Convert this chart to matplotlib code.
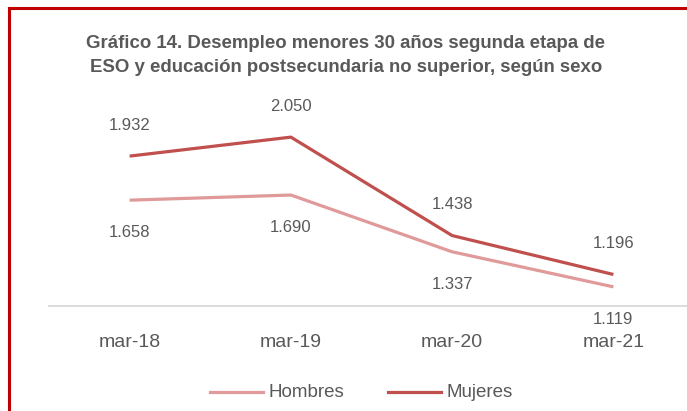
import matplotlib.pyplot as plt
from matplotlib.lines import Line2D

# data
periods = ['mar-18', 'mar-19', 'mar-20', 'mar-21']
hombres = [1658, 1690, 1337, 1119]
mujeres = [1932, 2050, 1438, 1196]
hombres_lbl = ['1.658', '1.690', '1.337', '1.119']
mujeres_lbl = ['1.932', '2.050', '1.438', '1.196']
series_names = ['Hombres', 'Mujeres']

c_hom = '#E09A9A'
c_muj = '#C0504D'
grey = '#595959'

plt.rcParams['font.family'] = ['Liberation Sans', 'DejaVu Sans']

W, H = 687, 411
fig = plt.figure(figsize=(W / 100, H / 100), dpi=100)
fig.patch.set_facecolor('white')

# axes: left edge 49px, category spacing ~161px (runs past the right edge)
ax_l, ax_w = 49 / W, 645 / W
ax_b = 1 - 306 / H
ax_t = 1 - 113 / H
ax = fig.add_axes([ax_l, ax_b, ax_w, ax_t - ax_b])
x = list(range(len(periods)))
ax.plot(x, hombres, color=c_hom, lw=2.3, solid_capstyle='butt')
ax.plot(x, mujeres, color=c_muj, lw=2.3, solid_capstyle='butt')
ax.set_xlim(-0.5, 3.5)
ax.set_ylim(1000, 2200)

for i in x:
    ax.annotate(mujeres_lbl[i], (i, mujeres[i]), xytext=(0, 22), textcoords='offset points',
                ha='center', va='center', fontsize=12, color=grey)
    ax.annotate(hombres_lbl[i], (i, hombres[i]), xytext=(0, -23.5), textcoords='offset points',
                ha='center', va='center', fontsize=12, color=grey)

ax.set_xticks(x)
ax.set_xticklabels(periods, fontsize=14, color=grey)
ax.tick_params(axis='x', length=0, pad=20)
ax.set_yticks([])
for s in ['top', 'right', 'left']:
    ax.spines[s].set_visible(False)
ax.spines['bottom'].set_color('#D9D9D9')
ax.spines['bottom'].set_linewidth(1.3)
ax.patch.set_alpha(0)

fig.text(346 / W, 1 - 43 / H, 'Gráfico 14. Desempleo menores 30 años segunda etapa de',
         ha='center', va='center', fontsize=13.4, fontweight='bold', color=grey)
fig.text(346 / W, 1 - 68 / H, 'ESO y educación postsecundaria no superior, según sexo',
         ha='center', va='center', fontsize=13.4, fontweight='bold', color=grey)

# legend, drawn by hand at its place under the axis
leg_y = 1 - 392 / H
for x0, col, name in [(210, c_hom, series_names[0]), (388, c_muj, series_names[1])]:
    fig.add_artist(Line2D([x0 / W, (x0 + 53) / W], [leg_y, leg_y], color=col, lw=2.3,
                          transform=fig.transFigure))
    fig.text((x0 + 58) / W, leg_y, name, ha='left', va='center', fontsize=13.5, color=grey)

# red frame at top and left
fig.add_artist(Line2D([9 / W, 9 / W], [0, 1 - 8 / H], color='#C00000', lw=2.2,
                      transform=fig.transFigure))
fig.add_artist(Line2D([9 / W, 1], [1 - 8 / H, 1 - 8 / H], color='#C00000', lw=2.2,
                      transform=fig.transFigure))

fig.savefig('out.png', dpi=100)
